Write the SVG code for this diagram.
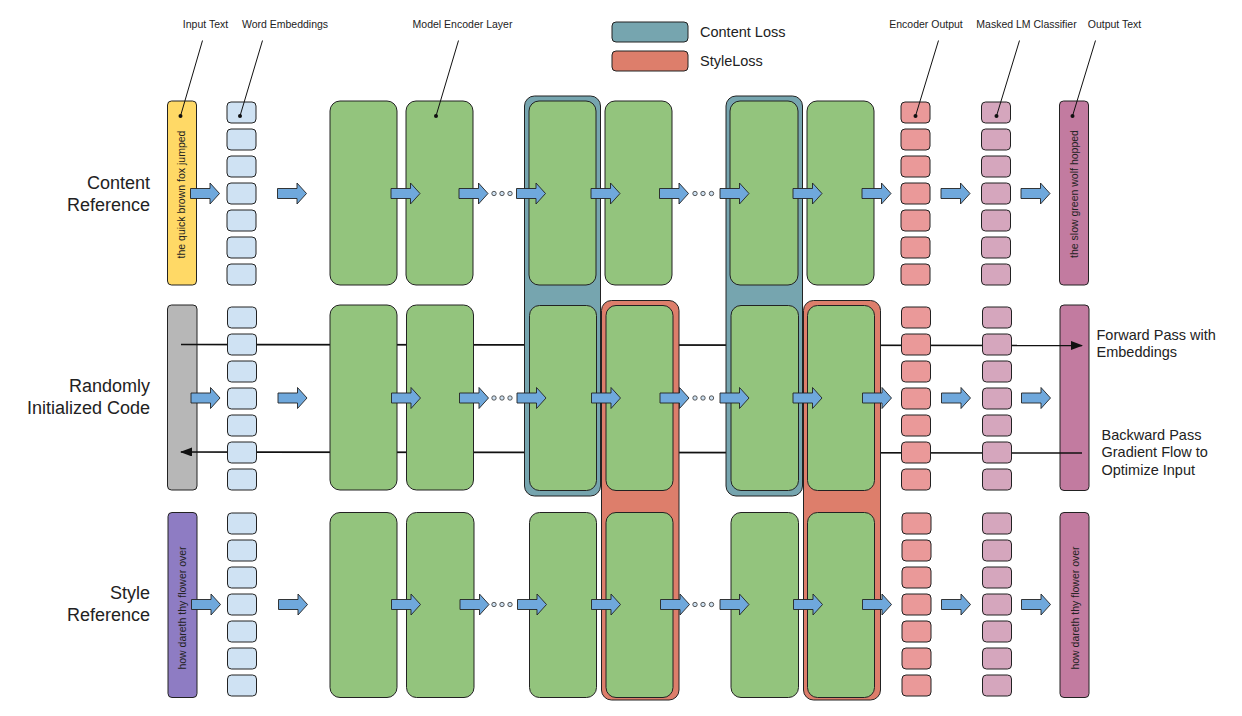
<svg xmlns="http://www.w3.org/2000/svg" xmlns:xlink="http://www.w3.org/1999/xlink" width="1242" height="716" viewBox="0 0 1242 716">
<style>
  text { font-family: "Liberation Sans", Arial, sans-serif; fill: #222; }
  .lbl { font-size: 10.5px; text-anchor: middle; }
  .row { font-size: 18px; text-anchor: end; }
  .side { font-size: 14.5px; }
  .vt { font-size: 10.5px; text-anchor: middle; }
  .tb { stroke: #222; stroke-width: 1; }
  .grn { fill: #93c47d; stroke: #222; stroke-width: 1; }
  .emb rect { fill: #cfe2f3; stroke: #222; stroke-width: 1; }
  .enc rect { fill: #ea9999; stroke: #222; stroke-width: 1; }
  .mlm rect { fill: #d5a6bd; stroke: #222; stroke-width: 1; }
  .closs { fill: #76a5af; stroke: #222; stroke-width: 1; }
  .sloss { fill: #dd7e6b; stroke: #222; stroke-width: 1; }
  .lead { stroke: #111; stroke-width: 1; fill: none; }
  .dot { fill: #111; }
  .flow { stroke: #111; stroke-width: 1.6; fill: none; }
  .blk { fill: #6fa8dc; stroke: #222; stroke-width: 0.9; }
  .ell { fill: #cfe2f3; stroke: #333; stroke-width: 0.8; }
</style>
<defs>
  <path id="blkarrow" d="M0,-5 H19.5 V-10.5 L29,0 L19.5,10.5 V5 H0 Z"/>
  <marker id="ah" markerUnits="userSpaceOnUse" markerWidth="12" markerHeight="9" refX="11" refY="4.5" orient="auto">
    <path d="M0,0 L12,4.5 L0,9 Z" fill="#111"/>
  </marker>
</defs>
<rect x="0" y="0" width="1242" height="716" fill="#fff"/>

<!-- Legend -->
<g id="legend">
  <rect class="closs" x="612" y="22" width="76" height="20" rx="4"/>
  <text class="side" x="700" y="37">Content Loss</text>
  <rect class="sloss" x="612" y="51" width="76" height="20" rx="4"/>
  <text class="side" x="700" y="65.5">StyleLoss</text>
</g>

<!-- Row labels -->
<g id="row-labels">
  <text class="row" x="150" y="188.5">Content</text>
  <text class="row" x="150" y="210.5">Reference</text>
  <text class="row" x="150" y="391.5">Randomly</text>
  <text class="row" x="150" y="413.5">Initialized Code</text>
  <text class="row" x="150" y="598.5">Style</text>
  <text class="row" x="150" y="620.5">Reference</text>
</g>

<!-- Text boxes (input / output) -->
<g id="input-content"><rect class="tb" x="167.5" y="101" width="29" height="184" rx="4" fill="#ffd966"/><text class="vt" transform="translate(185,194.5) rotate(-90)">the quick brown fox jumped</text></g>
<g id="input-random"><rect class="tb" x="167.5" y="305" width="29.5" height="185" rx="4" fill="#b7b7b7"/></g>
<g id="input-style"><rect class="tb" x="168" y="512.5" width="29" height="185" rx="4" fill="#8e7cc3"/><text class="vt" transform="translate(186,608) rotate(-90)">how dareth thy flower over</text></g>
<g id="output-content"><rect class="tb" x="1059.5" y="101" width="29" height="184" rx="4" fill="#c27ba0"/><text class="vt" transform="translate(1077.5,194) rotate(-90)">the slow green wolf hopped</text></g>
<g id="output-random"><rect class="tb" x="1060" y="305" width="29" height="185.5" rx="4" fill="#c27ba0"/></g>
<g id="output-style"><rect class="tb" x="1060" y="512.5" width="29" height="185" rx="4" fill="#c27ba0"/><text class="vt" transform="translate(1078.5,608) rotate(-90)">how dareth thy flower over</text></g>

<!-- Forward / backward connectors -->
<g id="connectors">
  <line class="flow" x1="181" y1="344.5" x2="1082" y2="345.5" marker-end="url(#ah)"/>
  <line class="flow" x1="1082" y1="453" x2="181" y2="452" marker-end="url(#ah)"/>
</g>
<g id="flow-labels">
  <text class="side" x="1096.5" y="340">Forward Pass with</text>
  <text class="side" x="1096.5" y="357">Embeddings</text>
  <text class="side" x="1101.5" y="439.5">Backward Pass</text>
  <text class="side" x="1101.5" y="457">Gradient Flow to</text>
  <text class="side" x="1101.5" y="474.5">Optimize Input</text>
</g>

<!-- Loss groupings -->
<g id="content-loss-1"><rect class="closs" x="524.5" y="96" width="76" height="400" rx="10"/></g>
<g id="style-loss-1"><rect class="sloss" x="601.5" y="300.5" width="77.5" height="399.5" rx="10"/></g>
<g id="content-loss-2"><rect class="closs" x="726" y="96" width="76.5" height="400" rx="10"/></g>
<g id="style-loss-2"><rect class="sloss" x="803.5" y="300.5" width="77" height="399.5" rx="10"/></g>

<!-- Encoder layers -->
<g id="encoder-content">
  <rect class="grn" x="330" y="101" width="67" height="184" rx="10"/>
  <rect class="grn" x="406" y="101" width="67" height="184" rx="10"/>
  <rect class="grn" x="529" y="101" width="67" height="184" rx="10"/>
  <rect class="grn" x="605" y="101" width="67" height="184" rx="10"/>
  <rect class="grn" x="730" y="101" width="68" height="184" rx="10"/>
  <rect class="grn" x="807" y="101" width="67" height="184" rx="10"/>
</g>
<g id="encoder-random">
  <rect class="grn" x="330" y="305" width="67" height="185" rx="10"/>
  <rect class="grn" x="406.5" y="305" width="67" height="185" rx="10"/>
  <rect class="grn" x="529.5" y="305.5" width="67" height="185" rx="10"/>
  <rect class="grn" x="606" y="305.5" width="67" height="185" rx="10"/>
  <rect class="grn" x="731" y="305.5" width="67.5" height="185" rx="10"/>
  <rect class="grn" x="807.5" y="305.5" width="67" height="185" rx="10"/>
</g>
<g id="encoder-style">
  <rect class="grn" x="330" y="512.5" width="67" height="185" rx="10"/>
  <rect class="grn" x="406.5" y="512.5" width="67.5" height="185" rx="10"/>
  <rect class="grn" x="529.5" y="512.5" width="67" height="185" rx="10"/>
  <rect class="grn" x="606" y="512.5" width="67" height="185" rx="10"/>
  <rect class="grn" x="731" y="512.5" width="67.5" height="185" rx="10"/>
  <rect class="grn" x="807.5" y="512.5" width="67" height="185" rx="10"/>
</g>

<!-- Word embeddings -->
<g id="emb-content" class="emb">
  <rect x="227" y="102" width="29" height="21" rx="4"/><rect x="227" y="129" width="29" height="21" rx="4"/><rect x="227" y="156" width="29" height="21" rx="4"/><rect x="227" y="183" width="29" height="21" rx="4"/><rect x="227" y="210" width="29" height="21" rx="4"/><rect x="227" y="237" width="29" height="21" rx="4"/><rect x="227" y="264" width="29" height="21" rx="4"/>
</g>
<g id="emb-random" class="emb">
  <rect x="227.5" y="307" width="29" height="21" rx="4"/><rect x="227.5" y="334" width="29" height="21" rx="4"/><rect x="227.5" y="361" width="29" height="21" rx="4"/><rect x="227.5" y="388" width="29" height="21" rx="4"/><rect x="227.5" y="415" width="29" height="21" rx="4"/><rect x="227.5" y="442" width="29" height="21" rx="4"/><rect x="227.5" y="469" width="29" height="21" rx="4"/>
</g>
<g id="emb-style" class="emb">
  <rect x="227.5" y="513" width="29" height="21" rx="4"/><rect x="227.5" y="540" width="29" height="21" rx="4"/><rect x="227.5" y="567" width="29" height="21" rx="4"/><rect x="227.5" y="594" width="29" height="21" rx="4"/><rect x="227.5" y="621" width="29" height="21" rx="4"/><rect x="227.5" y="648" width="29" height="21" rx="4"/><rect x="227.5" y="675" width="29" height="21" rx="4"/>
</g>

<!-- Encoder outputs -->
<g id="encout-content" class="enc">
  <rect x="901" y="102" width="29" height="21" rx="4"/><rect x="901" y="129" width="29" height="21" rx="4"/><rect x="901" y="156" width="29" height="21" rx="4"/><rect x="901" y="183" width="29" height="21" rx="4"/><rect x="901" y="210" width="29" height="21" rx="4"/><rect x="901" y="237" width="29" height="21" rx="4"/><rect x="901" y="264" width="29" height="21" rx="4"/>
</g>
<g id="encout-random" class="enc">
  <rect x="901.5" y="307" width="29" height="21" rx="4"/><rect x="901.5" y="334" width="29" height="21" rx="4"/><rect x="901.5" y="361" width="29" height="21" rx="4"/><rect x="901.5" y="388" width="29" height="21" rx="4"/><rect x="901.5" y="415" width="29" height="21" rx="4"/><rect x="901.5" y="442" width="29" height="21" rx="4"/><rect x="901.5" y="469" width="29" height="21" rx="4"/>
</g>
<g id="encout-style" class="enc">
  <rect x="902" y="513" width="29" height="21" rx="4"/><rect x="902" y="540" width="29" height="21" rx="4"/><rect x="902" y="567" width="29" height="21" rx="4"/><rect x="902" y="594" width="29" height="21" rx="4"/><rect x="902" y="621" width="29" height="21" rx="4"/><rect x="902" y="648" width="29" height="21" rx="4"/><rect x="902" y="675" width="29" height="21" rx="4"/>
</g>

<!-- Masked LM classifier -->
<g id="mlm-content" class="mlm">
  <rect x="981.5" y="102" width="29" height="21" rx="4"/><rect x="981.5" y="129" width="29" height="21" rx="4"/><rect x="981.5" y="156" width="29" height="21" rx="4"/><rect x="981.5" y="183" width="29" height="21" rx="4"/><rect x="981.5" y="210" width="29" height="21" rx="4"/><rect x="981.5" y="237" width="29" height="21" rx="4"/><rect x="981.5" y="264" width="29" height="21" rx="4"/>
</g>
<g id="mlm-random" class="mlm">
  <rect x="982.5" y="307" width="29" height="21" rx="4"/><rect x="982.5" y="334" width="29" height="21" rx="4"/><rect x="982.5" y="361" width="29" height="21" rx="4"/><rect x="982.5" y="388" width="29" height="21" rx="4"/><rect x="982.5" y="415" width="29" height="21" rx="4"/><rect x="982.5" y="442" width="29" height="21" rx="4"/><rect x="982.5" y="469" width="29" height="21" rx="4"/>
</g>
<g id="mlm-style" class="mlm">
  <rect x="982.5" y="513" width="29" height="21" rx="4"/><rect x="982.5" y="540" width="29" height="21" rx="4"/><rect x="982.5" y="567" width="29" height="21" rx="4"/><rect x="982.5" y="594" width="29" height="21" rx="4"/><rect x="982.5" y="621" width="29" height="21" rx="4"/><rect x="982.5" y="648" width="29" height="21" rx="4"/><rect x="982.5" y="675" width="29" height="21" rx="4"/>
</g>

<!-- Block flow arrows -->
<g id="flow-arrows">
  <g transform="translate(0,193.5)">
    <use href="#blkarrow" class="blk" x="190.5"/><use href="#blkarrow" class="blk" x="277.5"/><use href="#blkarrow" class="blk" x="391"/><use href="#blkarrow" class="blk" x="459"/><use href="#blkarrow" class="blk" x="516.5"/><use href="#blkarrow" class="blk" x="591"/><use href="#blkarrow" class="blk" x="659.5"/><use href="#blkarrow" class="blk" x="720"/><use href="#blkarrow" class="blk" x="793"/><use href="#blkarrow" class="blk" x="862"/><use href="#blkarrow" class="blk" x="941"/><use href="#blkarrow" class="blk" x="1021"/>
    <circle class="ell" cx="494" cy="0" r="2.2"/><circle class="ell" cx="502" cy="0" r="2.2"/><circle class="ell" cx="510" cy="0" r="2.2"/>
    <circle class="ell" cx="695" cy="0" r="2.2"/><circle class="ell" cx="703" cy="0" r="2.2"/><circle class="ell" cx="711.5" cy="0" r="2.2"/>
  </g>
  <g transform="translate(0,398)">
    <use href="#blkarrow" class="blk" x="191"/><use href="#blkarrow" class="blk" x="278"/><use href="#blkarrow" class="blk" x="391.5"/><use href="#blkarrow" class="blk" x="459.5"/><use href="#blkarrow" class="blk" x="517"/><use href="#blkarrow" class="blk" x="591.5"/><use href="#blkarrow" class="blk" x="660"/><use href="#blkarrow" class="blk" x="720"/><use href="#blkarrow" class="blk" x="793"/><use href="#blkarrow" class="blk" x="862.5"/><use href="#blkarrow" class="blk" x="941.5"/><use href="#blkarrow" class="blk" x="1021.5"/>
    <circle class="ell" cx="494" cy="0" r="2.2"/><circle class="ell" cx="502" cy="0" r="2.2"/><circle class="ell" cx="510" cy="0" r="2.2"/>
    <circle class="ell" cx="695" cy="0" r="2.2"/><circle class="ell" cx="703" cy="0" r="2.2"/><circle class="ell" cx="711.5" cy="0" r="2.2"/>
  </g>
  <g transform="translate(0,604.5)">
    <use href="#blkarrow" class="blk" x="191.5"/><use href="#blkarrow" class="blk" x="278.5"/><use href="#blkarrow" class="blk" x="391.5"/><use href="#blkarrow" class="blk" x="460"/><use href="#blkarrow" class="blk" x="517.5"/><use href="#blkarrow" class="blk" x="591.5"/><use href="#blkarrow" class="blk" x="660.5"/><use href="#blkarrow" class="blk" x="720"/><use href="#blkarrow" class="blk" x="793.5"/><use href="#blkarrow" class="blk" x="862.5"/><use href="#blkarrow" class="blk" x="941.5"/><use href="#blkarrow" class="blk" x="1021.5"/>
    <circle class="ell" cx="494" cy="0" r="2.2"/><circle class="ell" cx="502" cy="0" r="2.2"/><circle class="ell" cx="510" cy="0" r="2.2"/>
    <circle class="ell" cx="695" cy="0" r="2.2"/><circle class="ell" cx="703" cy="0" r="2.2"/><circle class="ell" cx="711.5" cy="0" r="2.2"/>
  </g>
</g>

<!-- Top labels with leaders (drawn last so leaders reach into boxes) -->
<g id="labels">
  <text class="lbl" x="205.5" y="27.5">Input Text</text>
  <line class="lead" x1="202.5" y1="40.5" x2="180.5" y2="116"/><circle class="dot" cx="180.5" cy="116" r="2"/>
  <text class="lbl" x="285" y="27.5">Word Embeddings</text>
  <line class="lead" x1="262.5" y1="40.5" x2="240" y2="116"/><circle class="dot" cx="240" cy="116" r="2"/>
  <text class="lbl" x="462.5" y="27.5">Model Encoder Layer</text>
  <line class="lead" x1="458.5" y1="40.5" x2="436" y2="116"/><circle class="dot" cx="436" cy="116" r="2"/>
  <text class="lbl" x="926" y="27.5">Encoder Output</text>
  <line class="lead" x1="938.5" y1="40.5" x2="915.5" y2="116"/><circle class="dot" cx="915.5" cy="116" r="2"/>
  <text class="lbl" x="1026.5" y="27.5">Masked LM Classifier</text>
  <line class="lead" x1="1019.5" y1="40.5" x2="996.5" y2="116"/><circle class="dot" cx="996.5" cy="116" r="2"/>
  <text class="lbl" x="1114.5" y="27.5">Output Text</text>
  <line class="lead" x1="1095.5" y1="40.5" x2="1072.5" y2="116"/><circle class="dot" cx="1072.5" cy="116" r="2"/>
</g>
</svg>
